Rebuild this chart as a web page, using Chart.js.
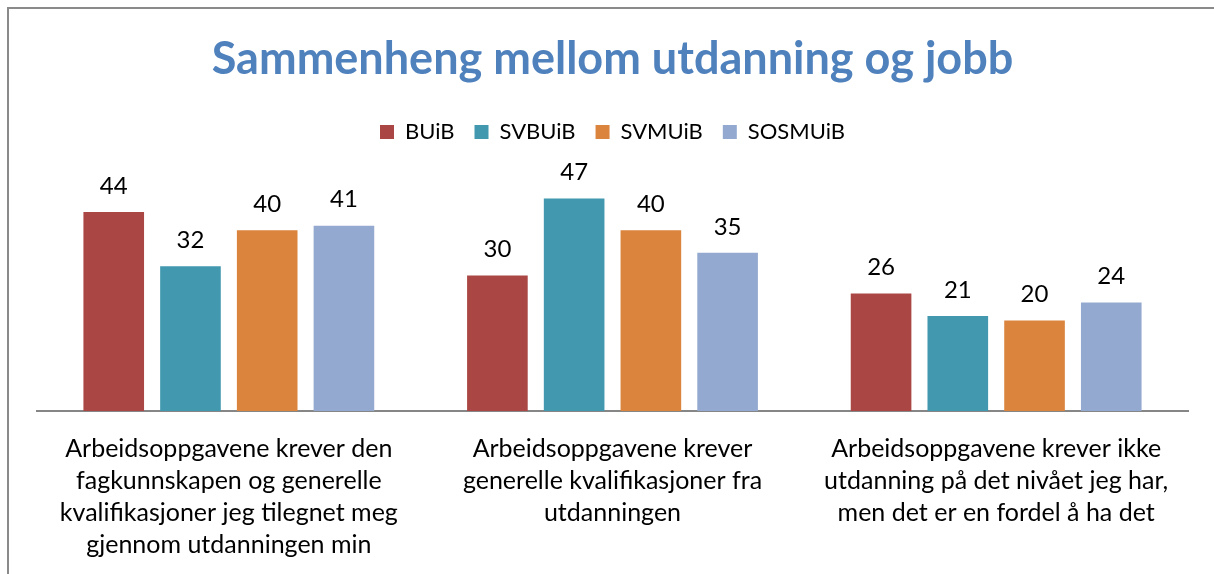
<!DOCTYPE html>
<html>
<head>
<meta charset="utf-8">
<script src="https://cdn.jsdelivr.net/npm/chart.js@4"></script>
<style>
  html, body { margin: 0; padding: 0; background: #fff; }
  canvas { display: block; }
</style>
</head>
<body>
<canvas id="chart" width="1214" height="574"></canvas>
<script>
const categories = [
  ["Arbeidsoppgavene krever den", "fagkunnskapen og generelle", "kvalifikasjoner jeg tilegnet meg", "gjennom utdanningen min"],
  ["Arbeidsoppgavene krever", "generelle kvalifikasjoner fra", "utdanningen"],
  ["Arbeidsoppgavene krever ikke", "utdanning på det nivået jeg har,", "men det er en fordel å ha det"]
];
const seriesNames = ["BUiB", "SVBUiB", "SVMUiB", "SOSMUiB"];
const buib = [44, 30, 26];
const svbuib = [32, 47, 21];
const svmuib = [40, 40, 20];
const sosmuib = [41, 35, 24];
const colors = ["#AA4643", "#4198AF", "#DB843D", "#93A9CF"];

const FONT = "Lato, 'Open Sans', sans-serif";

// data labels above each bar
const valueLabels = {
  id: "valueLabels",
  afterDatasetsDraw(chart) {
    const ctx = chart.ctx;
    ctx.save();
    ctx.font = "24px " + FONT;
    ctx.fillStyle = "#000";
    ctx.textAlign = "center";
    ctx.textBaseline = "middle";
    chart.data.datasets.forEach((ds, i) => {
      chart.getDatasetMeta(i).data.forEach((bar, j) => {
        ctx.fillText(ds.data[j], bar.x, bar.y - 26);
      });
    });
    ctx.restore();
  }
};

// extra room between legend and plot
const legendGap = {
  id: "legendGap",
  beforeInit(chart) {
    const fit = chart.legend.fit;
    chart.legend.fit = function () {
      fit.bind(chart.legend)();
      this.height += 32;
    };
  }
};

// outer chart frame (only top and left are inside the window)
const frame = {
  id: "frame",
  beforeDraw(chart) {
    const ctx = chart.ctx;
    ctx.save();
    ctx.strokeStyle = "#8a8a8a";
    ctx.lineWidth = 2;
    ctx.beginPath();
    ctx.moveTo(8, 600);
    ctx.lineTo(8, 8);
    ctx.lineTo(1300, 8);
    ctx.stroke();
    ctx.restore();
  }
};

new Chart(document.getElementById("chart"), {
  type: "bar",
  data: {
    labels: categories,
    datasets: [buib, svbuib, svmuib, sosmuib].map((d, i) => ({
      label: seriesNames[i],
      data: d,
      backgroundColor: colors[i],
      borderWidth: 0,
      categoryPercentage: 0.8,
      barPercentage: 0.79
    }))
  },
  options: {
    responsive: false,
    animation: false,
    layout: { padding: { left: 37, right: 26, top: 0, bottom: 0 } },
    plugins: {
      title: {
        display: true,
        text: "Sammenheng mellom utdanning og jobb",
        color: "#4F81BD",
        font: { family: FONT, size: 45, weight: "bold" },
        padding: { top: 32, bottom: 15 }
      },
      legend: {
        display: true,
        labels: {
          boxWidth: 14,
          boxHeight: 14,
          padding: 20,
          color: "#000",
          font: { family: FONT, size: 22 }
        }
      },
      tooltip: { enabled: false }
    },
    scales: {
      x: {
        grid: { display: false, drawTicks: false },
        border: { display: true, color: "#868686", width: 2 },
        ticks: {
          color: "#000",
          font: { family: FONT, size: 25, lineHeight: 1.28 },
          padding: 22,
          maxRotation: 0,
          autoSkip: false
        },
        afterFit(scale) { scale.height = 163; }
      },
      y: {
        display: false,
        min: 0,
        max: 50
      }
    }
  },
  plugins: [frame, legendGap, valueLabels]
});
</script>
</body>
</html>
